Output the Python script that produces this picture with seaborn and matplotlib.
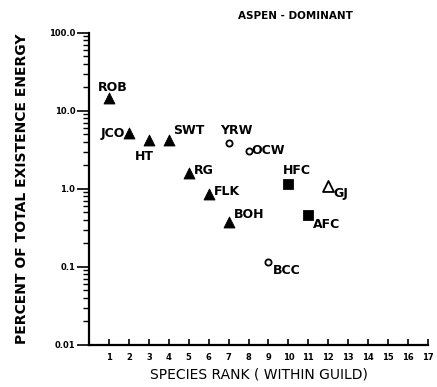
import matplotlib
matplotlib.use("Agg")
import matplotlib.pyplot as plt
import seaborn as sns
import pandas as pd
from matplotlib.ticker import FixedLocator, LogLocator, NullFormatter

species = ["ROB", "JCO", "HT", "SWT", "RG", "FLK", "BOH", "YRW", "OCW", "BCC", "HFC", "AFC", "GJ"]
rank = [1, 2, 3, 4, 5, 6, 7, 7, 8, 9, 10, 11, 12]
percent = [14.5, 5.2, 4.2, 4.2, 1.6, 0.86, 0.38, 3.9, 3.1, 0.116, 1.15, 0.46, 1.1]
kind = ["tri", "tri", "tri", "tri", "tri", "tri", "tri", "circ", "circ", "circ", "sq", "sq", "otri"]

df = pd.DataFrame({"species": species, "rank": rank, "percent": percent, "kind": kind})

sns.set_theme(style="ticks")
plt.rcParams["font.family"] = ["DejaVu Sans"]
for key in ["text.color", "axes.labelcolor", "xtick.color", "ytick.color", "axes.edgecolor"]:
    plt.rcParams[key] = "black"

fig = plt.figure(figsize=(4.37, 3.87), dpi=100)
ax = fig.add_axes([0.204, 0.109, 0.775, 0.806])

styles = {
    "tri": dict(marker="^", s=62, color="black", edgecolor="black"),
    "sq": dict(marker="s", s=50, color="black", edgecolor="black"),
    "circ": dict(marker="o", s=20, color="white", edgecolor="black", linewidth=1.3),
    "otri": dict(marker="^", s=62, color="white", edgecolor="black", linewidth=1.3),
}
for k, st in styles.items():
    sub = df[df["kind"] == k]
    sns.scatterplot(data=sub, x="rank", y="percent", ax=ax, legend=False, zorder=3, **st)

ax.set_yscale("log")
ax.set_xlim(0, 17)
ax.set_ylim(0.01, 100)

offsets = {
    "ROB": (-8, 8, "left"), "JCO": (-3, 0, "right"), "HT": (-10, -12, "left"),
    "SWT": (3, 7, "left"), "RG": (4, 2, "left"), "FLK": (4, 2, "left"),
    "BOH": (4, 5, "left"), "YRW": (-6, 9, "left"), "OCW": (2, 0, "left"),
    "BCC": (3, -6, "left"), "HFC": (-4, 10, "left"), "AFC": (3, -7, "left"),
    "GJ": (4, -6, "left"),
}
for s, x, y in zip(species, rank, percent):
    dx, dy, ha = offsets[s]
    ax.annotate(s, (x, y), xytext=(dx, dy), textcoords="offset points",
                ha=ha, va="center", fontsize=9, fontweight="bold")

ax.xaxis.set_major_locator(FixedLocator(range(1, 18)))
ax.set_xticklabels([str(i) for i in range(1, 18)], fontsize=6, fontweight="bold")
ax.tick_params(axis="x", direction="in", length=4, width=1.2, pad=6)
ax.set_yticks([0.01, 0.1, 1, 10, 100])
ax.set_yticklabels(["0.01", "0.1", "1.0", "10.0", "100.0"], fontsize=6, fontweight="bold")
ax.yaxis.set_minor_locator(LogLocator(base=10, subs=range(2, 10)))
ax.yaxis.set_minor_formatter(NullFormatter())
ax.tick_params(axis="y", which="major", direction="out", length=9, width=1.2, pad=1)
ax.tick_params(axis="y", which="minor", direction="out", length=4, width=1.0)

for sp in ["top", "right"]:
    ax.spines[sp].set_visible(False)
for sp in ["left", "bottom"]:
    ax.spines[sp].set_linewidth(1.6)
    ax.spines[sp].set_color("black")

ax.set_xlabel("SPECIES RANK ( WITHIN GUILD)", fontsize=10, labelpad=4)
ax.set_ylabel("PERCENT OF TOTAL EXISTENCE ENERGY", fontsize=10, fontweight="bold", labelpad=14)
fig.text(0.675, 0.958, "ASPEN - DOMINANT", ha="center", va="center", fontsize=7.5, fontweight="bold")

fig.savefig("out.png", dpi=100)
